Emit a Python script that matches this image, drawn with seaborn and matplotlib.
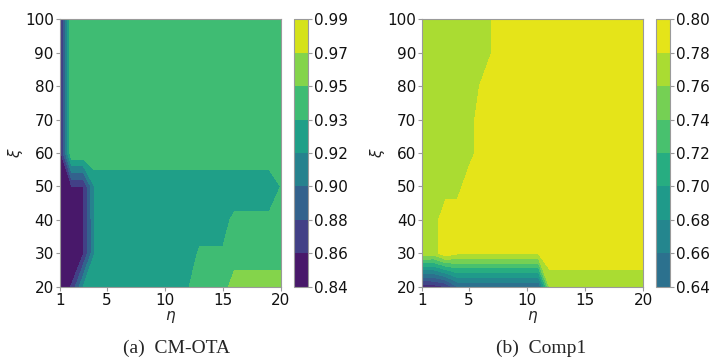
import numpy as np
import matplotlib
matplotlib.use("Agg")
import matplotlib.pyplot as plt
import seaborn as sns

sns.set_theme(style="white")
plt.rcParams['font.family'] = ['DejaVu Sans']

# ---- data ----
eta = list(range(1, 21))                       # x grid
xi = [20, 30, 40, 50, 60, 70, 80, 90, 100]     # y grid

# CM-OTA values, rows = xi (20..100), columns = eta (1..20)
cmota_20 = [0.845, 0.86, 0.916, 0.92] + [0.925] * 7 + [0.933] + [0.94] * 3 + [0.966] * 5
cmota_30 = [0.845, 0.845, 0.857, 0.916] + [0.925] * 8 + [0.936] * 3 + [0.938] * 5
cmota_40 = [0.845, 0.845, 0.857, 0.916] + [0.925] * 11 + [0.9395] * 4 + [0.945]
cmota_50 = [0.845, 0.858, 0.858] + [0.917] * 16 + [0.9345]
cmota_60 = [0.85] + [0.951] * 18 + [0.950]
cmota_70 = [0.85, 0.951] + [0.945] * 18
cmota_80 = [0.85, 0.951] + [0.945] * 18
cmota_90 = [0.85, 0.951] + [0.945] * 18
cmota_100 = [0.85, 0.951] + [0.945] * 18
cmota_levels = [0.84, 0.85875, 0.8775, 0.89625, 0.915, 0.93375, 0.9525, 0.97125, 0.99]
cmota_ticklabels = ['0.84', '0.86', '0.88', '0.90', '0.92', '0.93', '0.95', '0.97', '0.99']

# Comp1 values
comp1_20 = [0.585, 0.59, 0.60] + [0.64] * 8 + [0.77] * 9
comp1_30 = [0.775, 0.77, 0.795] + [0.783] * 8 + [0.79] * 9
comp1_40 = [0.77, 0.77, 0.795, 0.7875] + [0.79] * 16
comp1_50 = [0.77, 0.77, 0.77, 0.775, 0.787] + [0.79] * 15
comp1_60 = [0.77, 0.77, 0.77, 0.77, 0.775, 0.785] + [0.79] * 14
comp1_70 = [0.77, 0.77, 0.77, 0.77, 0.775, 0.785] + [0.79] * 14
comp1_80 = [0.77] * 5 + [0.781] + [0.79] * 14
comp1_90 = [0.77] * 6 + [0.7805] + [0.79] * 13
comp1_100 = [0.77] * 6 + [0.7805] + [0.79] * 13
comp1_levels = [0.56, 0.58, 0.60, 0.62, 0.64, 0.66, 0.68, 0.70, 0.72, 0.74, 0.76, 0.78, 0.80]
comp1_ticks = [0.64, 0.66, 0.68, 0.70, 0.72, 0.74, 0.76, 0.78, 0.80]
comp1_ticklabels = ['0.64', '0.66', '0.68', '0.70', '0.72', '0.74', '0.76', '0.78', '0.80']

x_ticks = [1, 5, 10, 15, 20]
y_ticks = [20, 30, 40, 50, 60, 70, 80, 90, 100]
captions = ['(a)  CM-OTA', '(b)  Comp1']

Z1 = np.array([cmota_20, cmota_30, cmota_40, cmota_50, cmota_60,
               cmota_70, cmota_80, cmota_90, cmota_100])
Z2 = np.array([comp1_20, comp1_30, comp1_40, comp1_50, comp1_60,
               comp1_70, comp1_80, comp1_90, comp1_100])
X, Y = np.meshgrid(eta, xi)

cmap = sns.color_palette("viridis", as_cmap=True)

W, H = 710, 364
fig = plt.figure(figsize=(W / 100, H / 100), dpi=100)


def px(l, b, w, h):
    return [l / W, 1 - (b + h) / H, w / W, h / H]


gray = '#9a9a9a'


def style_axes(ax):
    for s in ax.spines.values():
        s.set_color(gray)
        s.set_linewidth(0.8)
        s.set_visible(True)
    ax.tick_params(axis='both', which='both', direction='out', length=3,
                   width=0.8, color=gray, labelsize=11, pad=1.5,
                   bottom=True, left=True, labelcolor='#111111')


panels = [
    (Z1, cmota_levels, cmota_levels, cmota_ticklabels, None, 60, 294, 177),
    (Z2, comp1_levels, comp1_ticks, comp1_ticklabels, (0.64, 0.80), 422.3, 656, 541),
]

for i, (Z, levels, cticks, cticklabels, clim, axl, cbl, capx) in enumerate(panels):
    ax = fig.add_axes(px(axl, 19.3, 221, 267.4))
    cs = ax.contourf(X, Y, Z, levels=levels, cmap=cmap)
    ax.set_xlim(1, 20)
    ax.set_ylim(20, 100)
    ax.set_xticks(x_ticks)
    ax.set_yticks(y_ticks)
    ax.set_xlabel(r'$\eta$', fontsize=11, labelpad=1)
    ax.set_ylabel(r'$\xi$', fontsize=11, labelpad=0)
    style_axes(ax)

    cax = fig.add_axes(px(cbl, 19.3, 14, 267.4))
    cb = fig.colorbar(cs, cax=cax)
    cb.set_ticks(cticks)
    cb.set_ticklabels(cticklabels)
    if clim is not None:
        cax.set_ylim(*clim)
    cb.outline.set_edgecolor(gray)
    cb.outline.set_linewidth(0.8)
    cax.tick_params(axis='y', length=3, width=0.8, color=gray,
                    labelsize=11, pad=1.5, labelcolor='#111111', right=True)

    fig.text(capx / W, 1 - 348 / H, captions[i],
             ha='center', va='center', fontsize=14,
             family=['Liberation Serif', 'DejaVu Serif'])

fig.savefig('out.png', dpi=100)
